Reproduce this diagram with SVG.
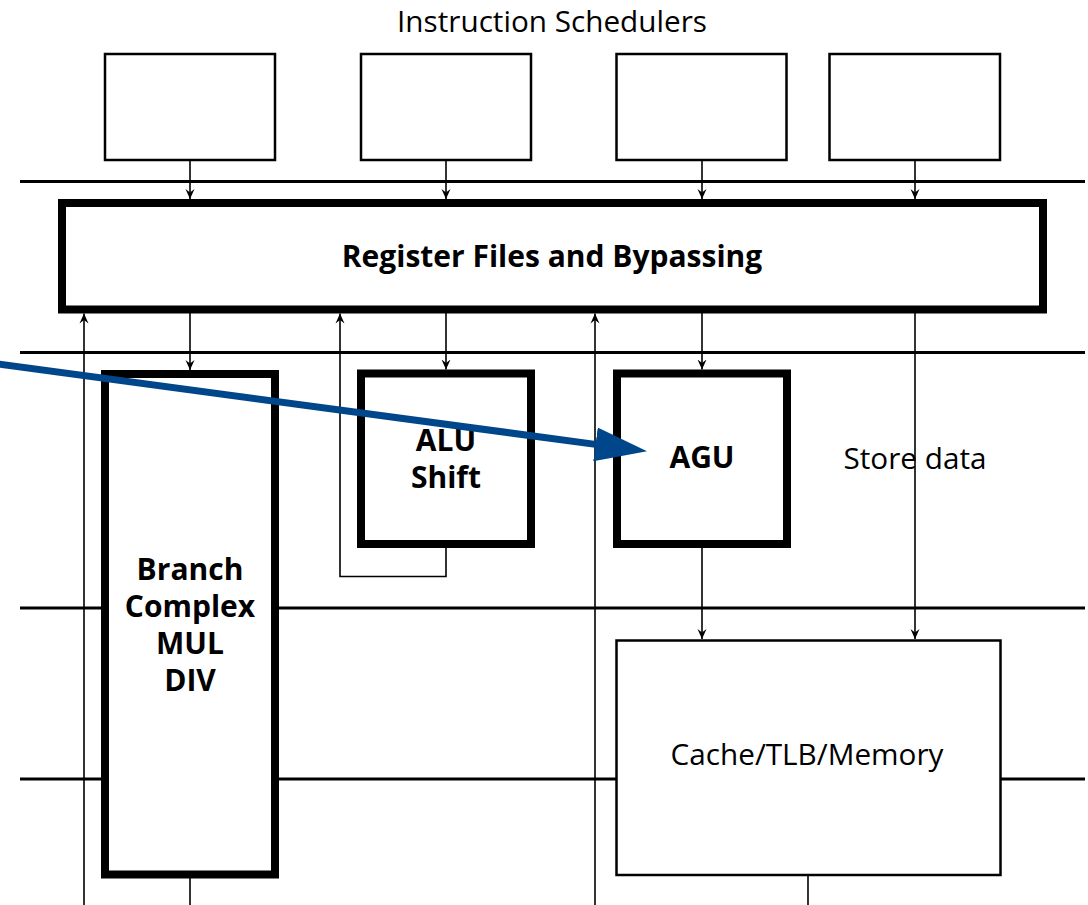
<svg xmlns="http://www.w3.org/2000/svg" width="1088" height="905" viewBox="0 0 1088 905">
<style>
.bus{stroke:#000;stroke-width:3;fill:none}
.wire{stroke:#000;stroke-width:1.6;fill:none}
.thin{fill:#fff;stroke:#000;stroke-width:2.5}
.thick{fill:#fff;stroke:#000;stroke-width:8}
.t{font-family:"Open Sans","DejaVu Sans",sans-serif;font-size:29.7px;fill:#000;text-anchor:middle}
.b{font-weight:bold;font-size:30px}
</style>
<defs>
<marker id="ah" markerUnits="userSpaceOnUse" viewBox="0 0 10 10" refX="10" refY="5" markerWidth="10" markerHeight="10" orient="auto">
<path d="M0,0.5 L10,5 L0,9.5 L3.5,5 z" fill="#000"/>
</marker>
<marker id="bh" markerUnits="userSpaceOnUse" viewBox="0 0 52 34" refX="0" refY="17" markerWidth="52" markerHeight="34" orient="auto">
<path d="M0,0 L52,17 L0,34 z" fill="#00468b"/>
</marker>
</defs>
<text class="t" x="552" y="32">Instruction Schedulers</text>
<g id="buses">
<line class="bus" x1="20" y1="181.5" x2="1085" y2="181.5"/>
<line class="bus" x1="20" y1="352.5" x2="1085" y2="352.5"/>
<line class="bus" x1="20" y1="608" x2="1085" y2="608"/>
<line class="bus" x1="20" y1="779" x2="1085" y2="779"/>
</g>
<g id="connectors">
<line class="wire" x1="190" y1="160" x2="190" y2="199" marker-end="url(#ah)"/>
<line class="wire" x1="446" y1="160" x2="446" y2="199" marker-end="url(#ah)"/>
<line class="wire" x1="702" y1="160" x2="702" y2="199" marker-end="url(#ah)"/>
<line class="wire" x1="915" y1="160" x2="915" y2="199" marker-end="url(#ah)"/>
<line class="wire" x1="190" y1="313" x2="190" y2="370" marker-end="url(#ah)"/>
<line class="wire" x1="446" y1="313" x2="446" y2="369.5" marker-end="url(#ah)"/>
<line class="wire" x1="702" y1="313" x2="702" y2="369.5" marker-end="url(#ah)"/>
<line class="wire" x1="915" y1="313" x2="915" y2="639" marker-end="url(#ah)"/>
<line class="wire" x1="702" y1="548" x2="702" y2="639" marker-end="url(#ah)"/>
<line class="wire" x1="84" y1="905" x2="84" y2="313.5" marker-end="url(#ah)"/>
<line class="wire" x1="595" y1="905" x2="595" y2="313.5" marker-end="url(#ah)"/>
<polyline class="wire" points="446,548 446,576.5 340,576.5 340,313.5" marker-end="url(#ah)"/>
<line class="wire" x1="190" y1="878" x2="190" y2="905"/>
<line class="wire" x1="808" y1="876" x2="808" y2="905"/>
</g>
<g id="sched1"><rect class="thin" x="105" y="54" width="170" height="106"/></g>
<g id="sched2"><rect class="thin" x="361" y="54" width="170" height="106"/></g>
<g id="sched3"><rect class="thin" x="616.5" y="54" width="170" height="106"/></g>
<g id="sched4"><rect class="thin" x="829.5" y="54" width="170.5" height="106"/></g>
<g id="regfile">
<rect class="thick" x="62" y="203" width="981" height="106.5"/>
<text class="t b" x="552" y="267">Register Files and Bypassing</text>
</g>
<g id="branch">
<rect class="thick" x="105" y="374" width="170" height="500.5"/>
<text class="t b" x="190" y="580">Branch</text>
<text class="t b" x="190" y="617">Complex</text>
<text class="t b" x="190" y="654">MUL</text>
<text class="t b" x="190" y="691">DIV</text>
</g>
<g id="alu">
<rect class="thick" x="361" y="373.5" width="170" height="170.5"/>
<text class="t b" x="446" y="451">ALU</text>
<text class="t b" x="446" y="488">Shift</text>
</g>
<g id="agu">
<rect class="thick" x="617" y="373.5" width="170" height="170.5"/>
<text class="t b" x="702" y="468">AGU</text>
</g>
<g id="storedata">
<text class="t" x="915" y="469">Store data</text>
</g>
<g id="cache">
<rect class="thin" x="616.5" y="640.5" width="384" height="234.5"/>
<text class="t" x="807" y="765">Cache/TLB/Memory</text>
</g>
<g id="highlight">
<line x1="-2" y1="364" x2="595.5" y2="444.4" stroke="#00468b" stroke-width="7" marker-end="url(#bh)"/>
</g>
</svg>
